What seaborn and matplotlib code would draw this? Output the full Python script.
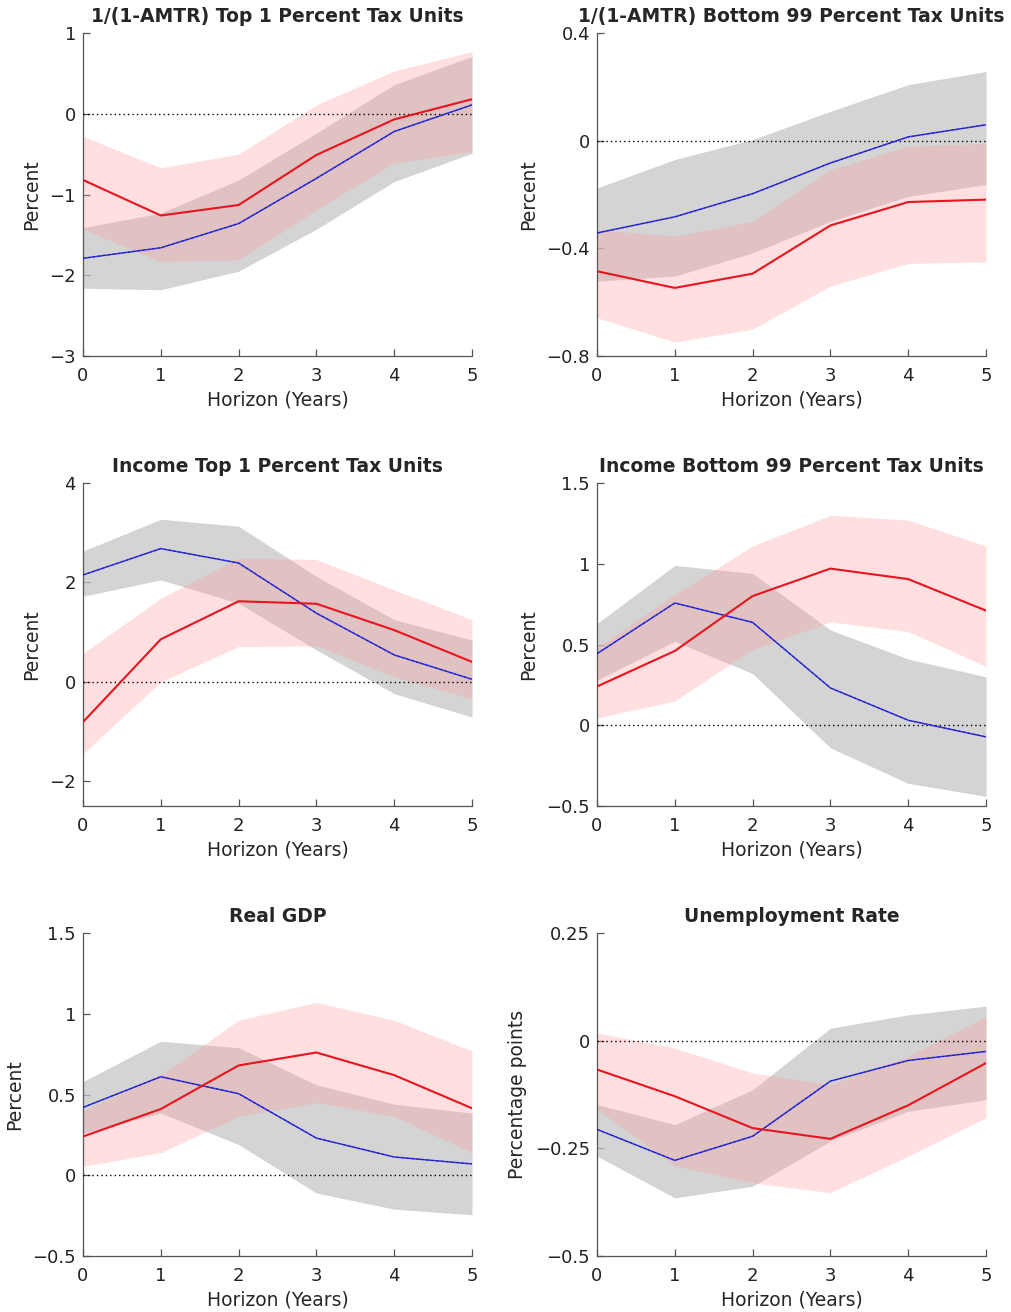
import numpy as np
import pandas as pd
import matplotlib
matplotlib.use("Agg")
import matplotlib.pyplot as plt
import seaborn as sns

sns.set_theme(style="white")
plt.rcParams['font.family'] = ['DejaVu Sans']

horizon = [0, 1, 2, 3, 4, 5]

titles = ["1/(1-AMTR) Top 1 Percent Tax Units",
          "1/(1-AMTR) Bottom 99 Percent Tax Units",
          "Income Top 1 Percent Tax Units",
          "Income Bottom 99 Percent Tax Units",
          "Real GDP",
          "Unemployment Rate"]
ylabels = ["Percent", "Percent", "Percent", "Percent", "Percent", "Percentage points"]
ylims = [(-3, 1), (-0.8, 0.4), (-2.5, 4), (-0.5, 1.5), (-0.5, 1.5), (-0.5, 0.25)]
yticks = [[-3, -2, -1, 0, 1], [-0.8, -0.4, 0, 0.4], [-2, 0, 2, 4],
          [-0.5, 0, 0.5, 1, 1.5], [-0.5, 0, 0.5, 1, 1.5], [-0.5, -0.25, 0, 0.25]]
yticklabels = [["\u22123", "\u22122", "\u22121", "0", "1"],
               ["\u22120.8", "\u22120.4", "0", "0.4"],
               ["\u22122", "0", "2", "4"],
               ["\u22120.5", "0", "0.5", "1", "1.5"],
               ["\u22120.5", "0", "0.5", "1", "1.5"],
               ["\u22120.5", "\u22120.25", "0", "0.25"]]

# Panel 1: 1/(1-AMTR) top 1
red_1 = [-0.82, -1.26, -1.13, -0.51, -0.07, 0.18]
red_lo_1 = [-1.43, -1.83, -1.81, -1.19, -0.61, -0.47]
red_hi_1 = [-0.28, -0.67, -0.50, 0.11, 0.53, 0.77]
blue_1 = [-1.79, -1.66, -1.36, -0.80, -0.22, 0.11]
blue_lo_1 = [-2.16, -2.18, -1.95, -1.43, -0.84, -0.49]
blue_hi_1 = [-1.41, -1.23, -0.82, -0.24, 0.36, 0.71]

# Panel 2: 1/(1-AMTR) bottom 99
red_2 = [-0.485, -0.547, -0.494, -0.315, -0.228, -0.219]
red_lo_2 = [-0.658, -0.748, -0.70, -0.54, -0.456, -0.45]
red_hi_2 = [-0.33, -0.355, -0.30, -0.108, -0.021, -0.01]
blue_2 = [-0.343, -0.283, -0.197, -0.083, 0.014, 0.059]
blue_lo_2 = [-0.522, -0.503, -0.417, -0.30, -0.207, -0.163]
blue_hi_2 = [-0.176, -0.07, 0.004, 0.109, 0.208, 0.257]

# Panel 3: Income top 1
red_3 = [-0.81, 0.855, 1.62, 1.57, 1.04, 0.40]
red_lo_3 = [-1.45, 0.0, 0.71, 0.72, 0.10, -0.34]
red_hi_3 = [0.57, 1.68, 2.49, 2.46, 1.85, 1.25]
blue_3 = [2.15, 2.68, 2.39, 1.38, 0.54, 0.05]
blue_lo_3 = [1.72, 2.05, 1.58, 0.64, -0.24, -0.71]
blue_hi_3 = [2.63, 3.27, 3.13, 2.12, 1.25, 0.84]

# Panel 4: Income bottom 99
red_4 = [0.24, 0.46, 0.80, 0.97, 0.905, 0.71]
red_lo_4 = [0.045, 0.15, 0.47, 0.64, 0.58, 0.365]
red_hi_4 = [0.48, 0.81, 1.11, 1.30, 1.27, 1.11]
blue_4 = [0.443, 0.757, 0.637, 0.231, 0.031, -0.072]
blue_lo_4 = [0.28, 0.52, 0.32, -0.14, -0.36, -0.44]
blue_hi_4 = [0.63, 0.99, 0.94, 0.59, 0.41, 0.30]

# Panel 5: Real GDP
red_5 = [0.24, 0.41, 0.68, 0.76, 0.62, 0.415]
red_lo_5 = [0.055, 0.14, 0.365, 0.45, 0.365, 0.14]
red_hi_5 = [0.40, 0.62, 0.96, 1.07, 0.96, 0.77]
blue_5 = [0.42, 0.61, 0.505, 0.23, 0.113, 0.07]
blue_lo_5 = [0.26, 0.385, 0.19, -0.11, -0.21, -0.245]
blue_hi_5 = [0.58, 0.83, 0.79, 0.56, 0.44, 0.385]

# Panel 6: Unemployment rate
red_6 = [-0.067, -0.129, -0.203, -0.228, -0.150, -0.052]
red_lo_6 = [-0.16, -0.29, -0.33, -0.353, -0.268, -0.179]
red_hi_6 = [0.018, -0.017, -0.075, -0.102, -0.036, 0.056]
blue_6 = [-0.206, -0.278, -0.222, -0.094, -0.046, -0.025]
blue_lo_6 = [-0.268, -0.365, -0.338, -0.233, -0.164, -0.137]
blue_hi_6 = [-0.148, -0.195, -0.114, 0.029, 0.06, 0.08]

panels = [
    (red_1, red_lo_1, red_hi_1, blue_1, blue_lo_1, blue_hi_1),
    (red_2, red_lo_2, red_hi_2, blue_2, blue_lo_2, blue_hi_2),
    (red_3, red_lo_3, red_hi_3, blue_3, blue_lo_3, blue_hi_3),
    (red_4, red_lo_4, red_hi_4, blue_4, blue_lo_4, blue_hi_4),
    (red_5, red_lo_5, red_hi_5, blue_5, blue_lo_5, blue_hi_5),
    (red_6, red_lo_6, red_hi_6, blue_6, blue_lo_6, blue_hi_6),
]

fig = plt.figure(figsize=(10.11, 13.12), dpi=100)
W, H = 1011.0, 1312.0
lefts = [83, 597]
tops = [33, 483, 933]
aw, ah = 389, 323

for i, (r, rlo, rhi, b, blo, bhi) in enumerate(panels):
    row, col = divmod(i, 2)
    ax = fig.add_axes([lefts[col] / W, 1 - (tops[row] + ah) / H, aw / W, ah / H])
    df = pd.DataFrame({"h": horizon, "red": r, "blue": b})
    ax.fill_between(horizon, blo, bhi, color="#c4c4c4", alpha=0.72, lw=0, zorder=1)
    ax.fill_between(horizon, rlo, rhi, color="#ff9c9c", alpha=0.32, lw=0, zorder=2)
    ax.axhline(0, color="black", ls=(0, (1, 2.2)), lw=1.0, zorder=3)
    sns.lineplot(data=df, x="h", y="blue", ax=ax, color="#3030ff", lw=1.1, zorder=4)
    sns.lineplot(data=df, x="h", y="blue", ax=ax, color="#202060", lw=0.6,
                 ls=(0, (3, 3)), zorder=5)
    sns.lineplot(data=df, x="h", y="red", ax=ax, color="#e8141e", lw=1.5, zorder=6)
    ax.set_xlim(0, 5)
    ax.set_ylim(*ylims[i])
    ax.set_xticks(horizon)
    ax.set_xticklabels([str(h) for h in horizon])
    ax.set_yticks(yticks[i])
    ax.set_yticklabels(yticklabels[i])
    ax.set_title(titles[i], fontsize=13.5, fontweight="bold", pad=8)
    ax.set_xlabel("Horizon (Years)", fontsize=13.5, labelpad=4)
    ax.set_ylabel(ylabels[i], fontsize=13.5, labelpad=6)
    for s in ["top", "right"]:
        ax.spines[s].set_visible(False)
    for s in ["left", "bottom"]:
        ax.spines[s].set_color("#555555")
        ax.spines[s].set_linewidth(0.9)
    ax.tick_params(axis="both", direction="in", length=5, width=0.9,
                   color="#555555", labelsize=13, labelcolor="#222222",
                   left=True, bottom=True, pad=5)
    ax.tick_params(axis="x", pad=8)

fig.savefig("out.png", dpi=100, facecolor="white")
